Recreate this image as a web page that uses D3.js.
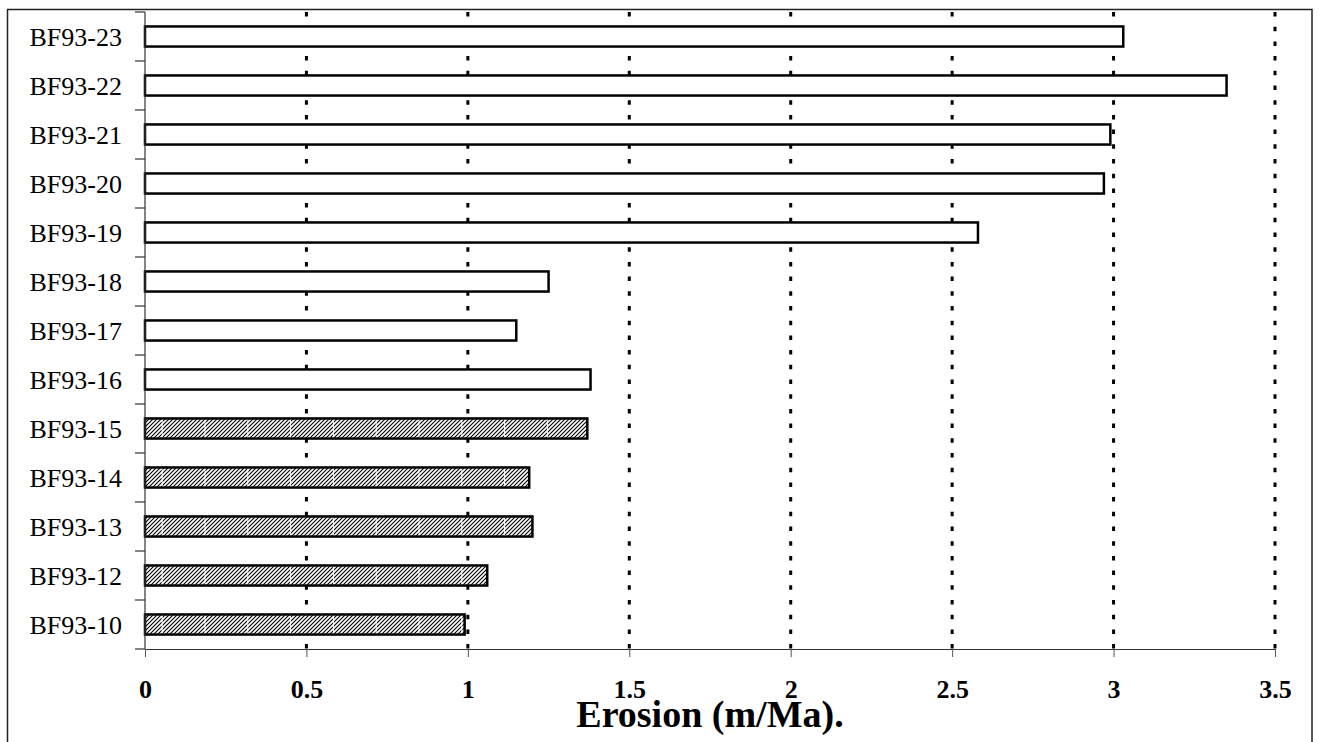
<!DOCTYPE html>
<html>
<head>
<meta charset="utf-8">
<script src="https://cdn.jsdelivr.net/npm/d3@7"></script>
<style>
  html, body { margin: 0; padding: 0; background: #fff; }
  svg { display: block; }
</style>
</head>
<body>
<svg id="chart" width="1319" height="742"></svg>
<script>
// ---- data ----
const categories = ["BF93-23","BF93-22","BF93-21","BF93-20","BF93-19","BF93-18","BF93-17",
                    "BF93-16","BF93-15","BF93-14","BF93-13","BF93-12","BF93-10"];
const erosion = [3.03, 3.35, 2.99, 2.97, 2.58, 1.25, 1.15, 1.38, 1.37, 1.19, 1.20, 1.06, 0.99];
const hatched = ["BF93-15","BF93-14","BF93-13","BF93-12","BF93-10"];
const xTicks = [0, 0.5, 1, 1.5, 2, 2.5, 3, 3.5];
const xTitle = "Erosion (m/Ma).";

(function () {
// ---- layout ----
const svg = d3.select("#chart");
const mLeft = 145, mRight = 1275, mTop = 12, mBottom = 649;

const x = d3.scaleLinear().domain([0, 3.5]).range([mLeft, mRight]);
const y = d3.scaleBand().domain(categories).range([mTop, mBottom])
  .paddingInner(0.59).paddingOuter(0.295);

// outer frame
svg.append("rect")
  .attr("x", 7.5).attr("y", 9.5).attr("width", 1304.5).attr("height", 760)
  .attr("fill", "none").attr("stroke", "#222").attr("stroke-width", 1.5);

// patterns
const defs = svg.append("defs");
const hp = defs.append("pattern").attr("id", "hatch")
  .attr("patternUnits", "userSpaceOnUse").attr("width", 4).attr("height", 4);
hp.append("rect").attr("width", 4).attr("height", 4).attr("fill", "#fff");
hp.append("path").attr("d", "M-1,1 L1,-1 M0,4 L4,0 M3,5 L5,3")
  .attr("stroke", "#000").attr("stroke-width", 1.1);
const sp = defs.append("pattern").attr("id", "seam")
  .attr("patternUnits", "userSpaceOnUse").attr("width", 42.8).attr("height", 10)
  .attr("patternTransform", "translate(33.3,0)");
sp.append("rect").attr("x", 0).attr("width", 1).attr("height", 10).attr("fill", "#fff");

// gridlines (dotted)
svg.append("g").selectAll("line").data(xTicks.filter(d => d > 0)).join("line")
  .attr("x1", d => x(d)).attr("x2", d => x(d))
  .attr("y1", mTop).attr("y2", mBottom)
  .attr("stroke", "#000").attr("stroke-width", 3)
  .attr("stroke-dasharray", "4.5 10.2");

// bars
const rows = categories.map((c, i) => ({ cat: c, val: erosion[i], hatch: hatched.includes(c) }));
const bars = svg.append("g");
bars.selectAll("rect.base").data(rows).join("rect").attr("class", "base")
  .attr("x", x(0)).attr("y", d => y(d.cat))
  .attr("width", d => x(d.val) - x(0)).attr("height", y.bandwidth())
  .attr("fill", d => d.hatch ? "url(#hatch)" : "#fff");
bars.selectAll("rect.seam").data(rows.filter(d => d.hatch)).join("rect").attr("class", "seam")
  .attr("x", x(0)).attr("y", d => y(d.cat))
  .attr("width", d => x(d.val) - x(0)).attr("height", y.bandwidth())
  .attr("fill", "url(#seam)");
bars.selectAll("rect.edge").data(rows).join("rect").attr("class", "edge")
  .attr("x", x(0)).attr("y", d => y(d.cat))
  .attr("width", d => x(d.val) - x(0)).attr("height", y.bandwidth())
  .attr("fill", "none").attr("stroke", "#000").attr("stroke-width", 2.5);

// x axis
const xAxis = svg.append("g").attr("transform", `translate(0,${mBottom})`)
  .call(d3.axisBottom(x).tickValues(xTicks).tickSize(8).tickSizeOuter(0).tickFormat(d3.format("")));
xAxis.select(".domain").attr("stroke", "#333").attr("stroke-width", 1.2);
xAxis.selectAll(".tick line").attr("stroke", "#555").attr("stroke-width", 1);
xAxis.selectAll(".tick text")
  .attr("y", 49).attr("dy", 0)
  .attr("font-family", "'Liberation Serif', 'Times New Roman', serif")
  .attr("font-weight", "bold").attr("font-size", 26).attr("fill", "#000");

// y axis (line + boundary ticks)
svg.append("line").attr("x1", mLeft).attr("x2", mLeft).attr("y1", mTop).attr("y2", mBottom)
  .attr("stroke", "#333").attr("stroke-width", 1.2);
const boundaryYs = d3.range(categories.length + 1).map(i => mTop + i * y.step());
svg.append("g").selectAll("line").data(boundaryYs).join("line")
  .attr("x1", mLeft - 10).attr("x2", mLeft).attr("y1", d => d).attr("y2", d => d)
  .attr("stroke", "#333").attr("stroke-width", 1.2);

// category labels
svg.append("g").selectAll("text").data(categories).join("text")
  .attr("x", mLeft - 23).attr("y", d => y(d) + y.bandwidth() / 2 + 9)
  .attr("text-anchor", "end")
  .attr("font-family", "'Liberation Serif', 'Times New Roman', serif")
  .attr("font-size", 26).attr("fill", "#000")
  .text(d => d);

// x title
svg.append("text").attr("x", (mLeft + mRight) / 2).attr("y", 727)
  .attr("text-anchor", "middle")
  .attr("font-family", "'Liberation Serif', 'Times New Roman', serif")
  .attr("font-weight", "bold").attr("font-size", 38).attr("fill", "#000")
  .text(xTitle);
})();
</script>
</body>
</html>
